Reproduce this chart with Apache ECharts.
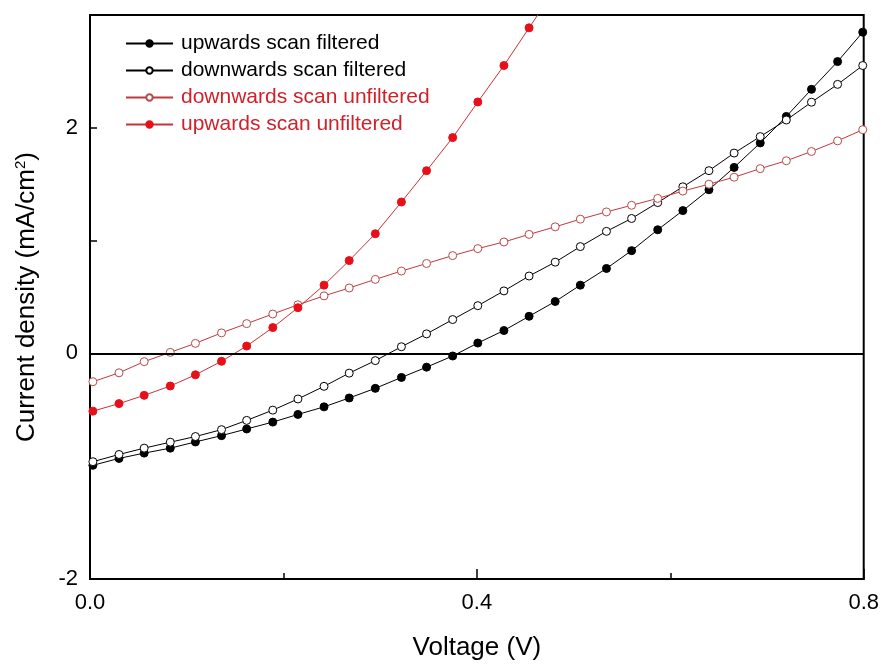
<!DOCTYPE html>
<html>
<head>
<meta charset="utf-8">
<script src="https://cdn.jsdelivr.net/npm/echarts@6/dist/echarts.min.js"></script>
<style>html,body{margin:0;padding:0;background:#fff}#c{width:882px;height:666px}</style>
</head>
<body>
<div id="c"></div>
<script>
const voltage = [0.003, 0.030, 0.056, 0.083, 0.109, 0.136, 0.162, 0.189, 0.215, 0.242, 0.268, 0.295, 0.322, 0.348, 0.375, 0.401, 0.428, 0.454, 0.481, 0.507, 0.534, 0.560, 0.587, 0.613, 0.640, 0.666, 0.693, 0.720, 0.746, 0.773, 0.799];

const upFiltered = [-0.992, -0.931, -0.884, -0.840, -0.785, -0.729, -0.670, -0.609, -0.541, -0.474, -0.395, -0.310, -0.213, -0.122, -0.023, 0.092, 0.203, 0.329, 0.460, 0.605, 0.753, 0.911, 1.096, 1.266, 1.451, 1.649, 1.866, 2.101, 2.341, 2.587, 2.848];
const downFiltered = [-0.960, -0.896, -0.840, -0.787, -0.737, -0.676, -0.594, -0.503, -0.404, -0.292, -0.175, -0.064, 0.059, 0.173, 0.300, 0.423, 0.554, 0.686, 0.809, 0.947, 1.082, 1.196, 1.337, 1.477, 1.620, 1.776, 1.922, 2.069, 2.227, 2.385, 2.552];
const downUnfiltered = [-0.251, -0.172, -0.073, 0.009, 0.089, 0.182, 0.264, 0.349, 0.431, 0.510, 0.580, 0.656, 0.730, 0.797, 0.867, 0.929, 0.988, 1.055, 1.122, 1.190, 1.254, 1.313, 1.374, 1.439, 1.500, 1.562, 1.638, 1.708, 1.790, 1.884, 1.983];
const upUnfiltered = [-0.512, -0.445, -0.372, -0.289, -0.190, -0.070, 0.065, 0.229, 0.405, 0.605, 0.823, 1.061, 1.342, 1.620, 1.913, 2.229, 2.552, 2.886, 3.23];

const seriesNames = ['upwards scan filtered', 'downwards scan filtered', 'downwards scan unfiltered', 'upwards scan unfiltered'];
const xTickLabels = ['0.0', '0.4', '0.8'];
const yTickLabels = ['-2', '0', '2'];

function pairs(ys) { return ys.map((y, i) => [voltage[i], y]); }

const FONT = '"Liberation Sans", Arial, sans-serif';
const chart = echarts.init(document.getElementById('c'), null, {renderer: 'canvas'});

function mkSeries(name, ys, lineColor, markerFill, markerStroke) {
  return {
    name: name,
    type: 'line',
    data: pairs(ys),
    clip: true,
    symbol: 'circle',
    symbolSize: 8,
    showAllSymbol: true,
    lineStyle: {color: lineColor, width: 1},
    itemStyle: {color: markerFill, borderColor: markerStroke, borderWidth: 1},
    emphasis: {disabled: true},
    animation: false,
    z: 3
  };
}

const series = [
  mkSeries(seriesNames[0], upFiltered, '#000', '#000', '#000'),
  mkSeries(seriesNames[1], downFiltered, '#000', '#fff', '#000'),
  mkSeries(seriesNames[2], downUnfiltered, '#c0393d', '#fff', '#b84a4a'),
  mkSeries(seriesNames[3], upUnfiltered, '#c83238', '#e81018', '#e81018')
];
series[0].markLine = {
  silent: true,
  symbol: 'none',
  label: {show: false},
  lineStyle: {color: '#000', width: 2, type: 'solid'},
  data: [{yAxis: 0}],
  animation: false
};

chart.setOption({
  animation: false,
  backgroundColor: '#fff',
  grid: {left: 90, right: 18, top: 15, bottom: 82, show: true, borderColor: '#000', borderWidth: 2, backgroundColor: 'transparent'},
  legend: {
    orient: 'vertical',
    left: 120,
    top: 28,
    itemWidth: 47,
    itemHeight: 8,
    itemGap: 6,
    textStyle: {fontFamily: FONT, fontSize: 21, padding: [0, 0, 0, 3]},
    data: [
      {name: seriesNames[0], textStyle: {color: '#000'}},
      {name: seriesNames[1], textStyle: {color: '#000'}},
      {name: seriesNames[2], textStyle: {color: '#d0212a'}},
      {name: seriesNames[3], textStyle: {color: '#d0212a'}}
    ]
  },
  xAxis: {
    type: 'value',
    min: 0, max: 0.8, interval: 0.4,
    name: 'Voltage (V)',
    nameLocation: 'middle',
    nameGap: 56,
    nameTextStyle: {fontFamily: FONT, fontSize: 26, color: '#000'},
    axisLine: {show: true, onZero: false, lineStyle: {color: '#000', width: 2}},
    axisTick: {show: true, inside: true, length: 10, lineStyle: {color: '#000', width: 1.5}},
    minorTick: {show: true, splitNumber: 2, length: 6, lineStyle: {color: '#000', width: 1.5}},
    splitLine: {show: false},
    axisLabel: {
      margin: 13, fontFamily: FONT, fontSize: 22, color: '#000',
      formatter: function (v) { const i = Math.round(v / 0.4); return xTickLabels[i] !== undefined ? xTickLabels[i] : ''; }
    }
  },
  yAxis: {
    type: 'value',
    min: -2, max: 3, interval: 1,
    name: 'Current density (mA/cm{sup|2})',
    nameLocation: 'middle',
    nameGap: 50,
    nameTextStyle: {fontFamily: FONT, fontSize: 26, color: '#000', rich: {sup: {fontFamily: FONT, fontSize: 15, verticalAlign: 'top', padding: [0, 0, 12, 0], color: '#000'}}},
    axisLine: {show: true, onZero: false, lineStyle: {color: '#000', width: 2}},
    axisTick: {show: true, inside: true, length: 7, lineStyle: {color: '#000', width: 1.5}},
    splitLine: {show: false},
    axisLabel: {
      margin: 12, fontFamily: FONT, fontSize: 22, color: '#000',
      formatter: function (v) { const i = Math.round((v + 2) / 2); return (Math.round(v) % 2 === 0 && yTickLabels[i] !== undefined) ? yTickLabels[i] : ''; }
    }
  },
  series: series
});
</script>
</body>
</html>
